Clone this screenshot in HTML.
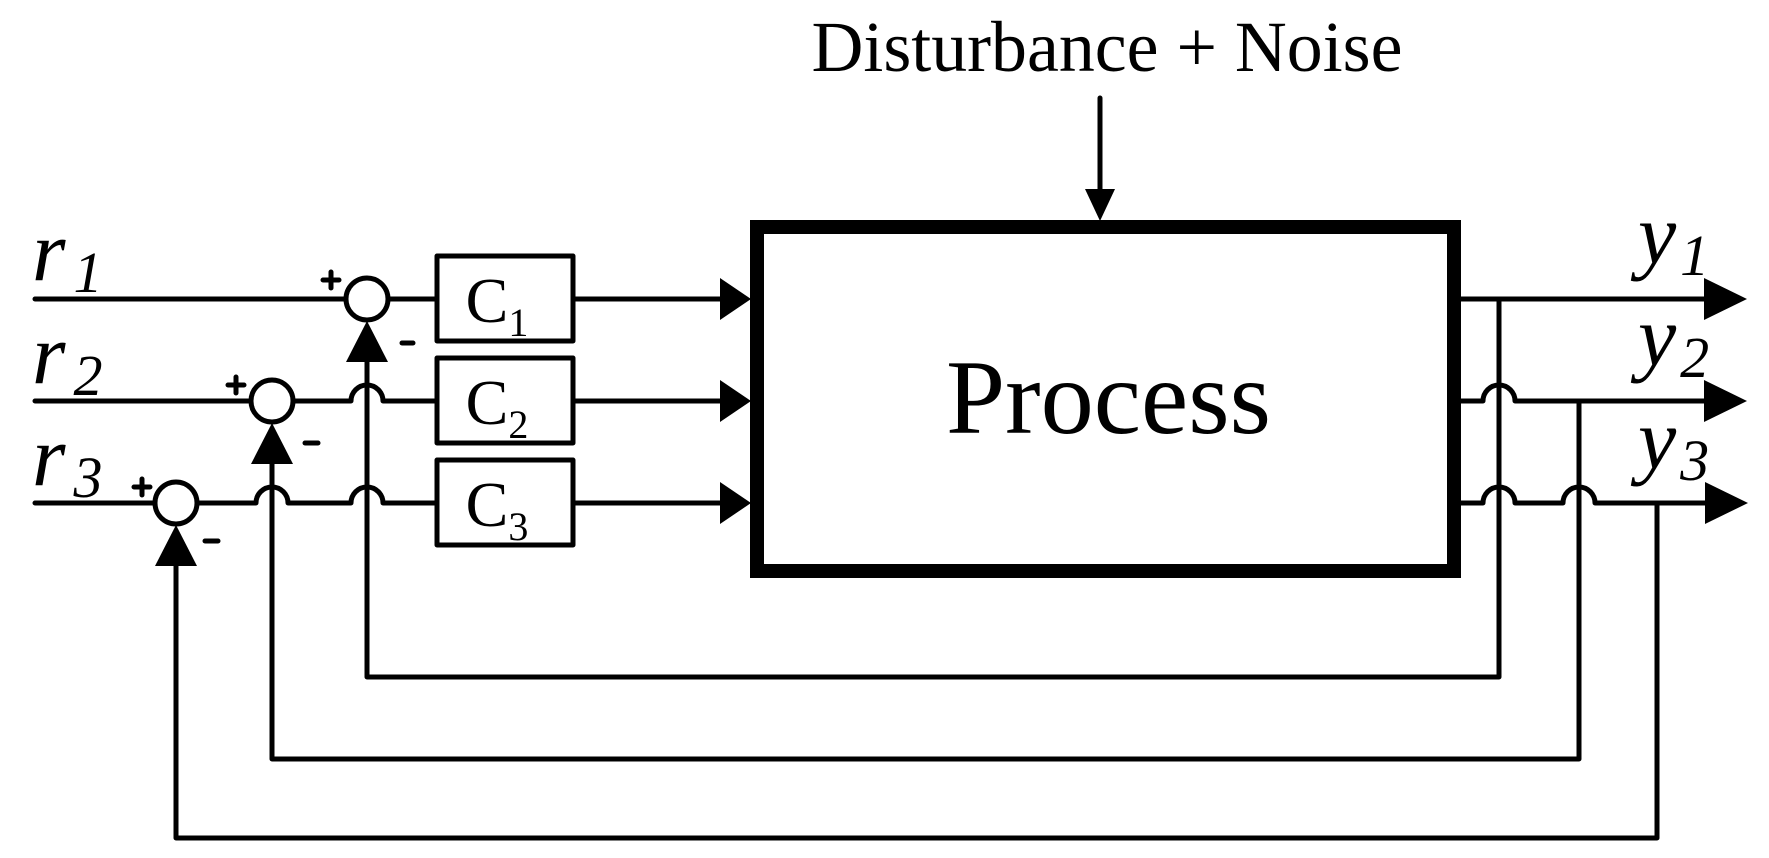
<!DOCTYPE html>
<html><head><meta charset="utf-8"><style>
html,body{margin:0;padding:0;background:#fff;}
svg{display:block;}
text{font-family:"Liberation Serif","Times New Roman",Times,serif;fill:#000;}
</style></head><body>
<svg width="1769" height="858" viewBox="0 0 1769 858" xmlns="http://www.w3.org/2000/svg">
<g fill="none" stroke="#000" stroke-width="5" stroke-linecap="round" stroke-linejoin="round">
  <line x1="35" y1="299" x2="345" y2="299"/>
  <line x1="389" y1="299" x2="437" y2="299"/>
  <path d="M35 401 H250 M294 401 H351 A16 16 0 0 1 383 401 H437"/>
  <path d="M35 503 H154 M198 503 H256 A16 16 0 0 1 288 503 H351 A16 16 0 0 1 383 503 H437"/>
  <line x1="573" y1="299" x2="722" y2="299"/>
  <line x1="573" y1="401" x2="722" y2="401"/>
  <line x1="573" y1="503" x2="722" y2="503"/>
  <rect x="437" y="256" width="136" height="85"/>
  <rect x="437" y="358" width="136" height="85"/>
  <rect x="437" y="460" width="136" height="85"/>
  <circle cx="367" cy="299" r="21"/>
  <circle cx="272" cy="401" r="21"/>
  <circle cx="176" cy="503" r="21"/>
  <line x1="1461" y1="299" x2="1706" y2="299"/>
  <path d="M1461 401 H1483 A16 16 0 0 1 1515 401 H1706"/>
  <path d="M1461 503 H1483 A16 16 0 0 1 1515 503 H1563 A16 16 0 0 1 1595 503 H1706"/>
  <path d="M1499 299 V677 H367 V362"/>
  <path d="M1579 401 V759 H272 V464"/>
  <path d="M1657 503 V838 H176 V566"/>
  <line x1="1100" y1="98" x2="1100" y2="192"/>
  <path d="M323 280 H339 M331 272 V288"/>
  <path d="M228 385 H244 M236 377 V393"/>
  <path d="M134 487 H150 M142 479 V495"/>
  <path d="M402 343 H413"/>
  <path d="M305 443 H318"/>
  <path d="M205 541 H218"/>
</g>
<rect x="757" y="227" width="697" height="344" fill="none" stroke="#000" stroke-width="14"/>
<g fill="#000">
  <polygon points="720,278 751,299 720,320"/>
  <polygon points="720,380 751,401 720,422"/>
  <polygon points="720,482 751,503 720,524"/>
  <polygon points="1704,278 1747,299 1704,320"/>
  <polygon points="1704,380 1747,401 1704,422"/>
  <polygon points="1705,482 1748,503 1705,524"/>
  <polygon points="346,362 367,321 388,362"/>
  <polygon points="251,464 272,423 293,464"/>
  <polygon points="155,566 176,525 197,566"/>
  <polygon points="1085,189 1115,189 1100,221"/>
</g>
<text x="1107" y="71" font-size="72" font-family="Liberation Serif, Times New Roman, serif" text-anchor="middle" textLength="591" lengthAdjust="spacingAndGlyphs">Disturbance + Noise</text>
<text x="946" y="433" font-size="106" font-family="Liberation Serif, Times New Roman, serif" textLength="325" lengthAdjust="spacingAndGlyphs">Process</text>
<g font-family="Liberation Serif, Times New Roman, serif">
<text x="497" y="322" font-size="64" text-anchor="middle">C<tspan font-size="40" dy="14">1</tspan></text>
<text x="497" y="424" font-size="64" text-anchor="middle">C<tspan font-size="40" dy="14">2</tspan></text>
<text x="497" y="526" font-size="64" text-anchor="middle">C<tspan font-size="40" dy="14">3</tspan></text>
</g>
<g font-style="italic" font-size="86" font-family="Liberation Serif, Times New Roman, serif">
  <text x="32" y="280">r<tspan font-size="58" dx="8" dy="12">1</tspan></text>
  <text x="32" y="383">r<tspan font-size="58" dx="8" dy="12">2</tspan></text>
  <text x="32" y="485">r<tspan font-size="58" dx="8" dy="12">3</tspan></text>
  <text x="1638" y="263">y<tspan font-size="58" dx="4" dy="12">1</tspan></text>
  <text x="1638" y="365">y<tspan font-size="58" dx="4" dy="12">2</tspan></text>
  <text x="1638" y="468">y<tspan font-size="58" dx="4" dy="12">3</tspan></text>
</g>
</svg>
</body></html>
